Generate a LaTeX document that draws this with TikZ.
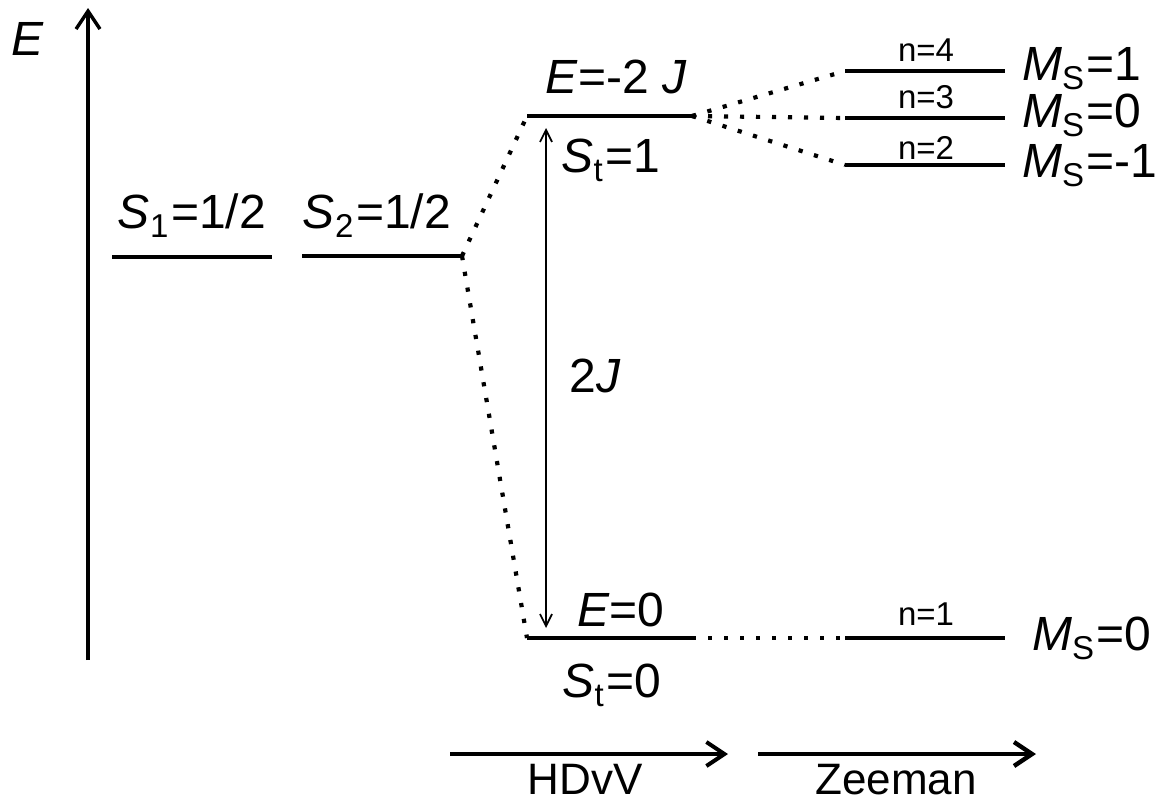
\documentclass[tikz,border=0pt]{standalone}
\usepackage{fontspec}
\setmainfont{Liberation Sans}
\usetikzlibrary{arrows.meta}
% lowered subscript in text mode
\newcommand\lowsub[1]{\raisebox{-0.2em}{\fontsize{33}{33}\selectfont #1}}
\begin{document}
\begin{tikzpicture}[x=1pt,y=-1pt,
  level/.style={line width=4pt},
  link/.style={line width=4.2pt, dash pattern=on 4.2pt off 11.8pt},
  bigtip/.style={-{Straight Barb[length=18pt,width=24pt]}},
  lbl/.style={font=\fontsize{48}{58}\selectfont, inner sep=0pt, anchor=base},
  sidelbl/.style={lbl, anchor=base west},
  small/.style={font=\fontsize{33}{40}\selectfont, inner sep=0pt, anchor=base},
]
\useasboundingbox (0,0) rectangle (1163,803);

% energy axis
\coordinate (ax0) at (88,660);
\coordinate (ax1) at (88,8);
\draw[line width=3.4pt, bigtip] (ax0) -- (ax1);
\node[sidelbl] (elab) at (11,55) {\textit{E}};

% level end points
\coordinate (s1a) at (112,257); \coordinate (s1b) at (272,257);
\coordinate (s2a) at (302,256); \coordinate (s2b) at (462,256);
\coordinate (ta) at (527,116);  \coordinate (tb) at (692,116);
\coordinate (ba) at (527,638);  \coordinate (bb) at (692,638);
\coordinate (z4a) at (845,71);  \coordinate (z4b) at (1005,71);
\coordinate (z3a) at (845,118); \coordinate (z3b) at (1005,118);
\coordinate (z2a) at (845,165); \coordinate (z2b) at (1005,165);
\coordinate (z1a) at (845,638); \coordinate (z1b) at (1005,638);

% levels
\foreach \p in {s1,s2,t,b,z4,z3,z2,z1}
  \draw[level] (\p a) -- (\p b);

% correlation lines
\draw[link] (s2b) -- (ta);
\draw[link] (s2b) -- (ba);
\draw[link] (tb) -- (z4a);
\draw[link] (tb) -- (z3a);
\draw[link] (tb) -- (z2a);
\draw[link] (bb) -- (z1a);

% splitting 2J
\coordinate (ja) at (546,128);
\coordinate (jb) at (546,628);
\draw[line width=1.7pt, {Straight Barb[length=12pt,width=12pt]}-{Straight Barb[length=12pt,width=12pt]}] (ja) -- (jb);
\node[lbl] (twoj) at (595,392) {2\textit{J}};

% level labels
\node[lbl] (s1lab) at (192,228) {\textit{S}\lowsub{1}\kern0.06em=1/2};
\node[lbl] (s2lab) at (377,228) {\textit{S}\lowsub{2}\kern0.06em=1/2};
\node[lbl] (etop) at (616,93) {\textit{E}=-2 \textit{J}};
\node[lbl] (st1) at (611,172) {\textit{S}\lowsub{t}\kern0.06em=1};
\node[lbl] (ebot) at (621,626) {\textit{E}=0};
\node[lbl] (st0) at (612,697) {\textit{S}\lowsub{t}\kern0.06em=0};

\node[small] (n4) at (926,61) {n=4};
\node[small] (n3) at (926,108) {n=3};
\node[small] (n2) at (926,159) {n=2};
\node[small] (n1) at (926,625) {n=1};

\node[sidelbl] (ms1) at (1022,80) {\textit{M}\lowsub{S}\kern0.04em=1};
\node[sidelbl] (ms0) at (1022,127) {\textit{M}\lowsub{S}\kern0.04em=0};
\node[sidelbl] (msm) at (1022,177) {\textit{M}\lowsub{S}\kern0.04em=-1};
\node[sidelbl] (msb) at (1032,650) {\textit{M}\lowsub{S}\kern0.04em=0};

% perturbation arrows
\coordinate (ha) at (450,754); \coordinate (hb) at (728,754);
\coordinate (za) at (758,754); \coordinate (zb) at (1036,754);
\draw[line width=4pt, bigtip] (ha) -- (hb);
\draw[line width=4.4pt, bigtip] (za) -- (zb);
\node[lbl, font=\fontsize{44}{53}\selectfont] (hdvv) at (585,794) {HDvV};
\node[lbl, font=\fontsize{44}{53}\selectfont] (zee) at (896,794) {Zeeman};
\end{tikzpicture}
\end{document}
